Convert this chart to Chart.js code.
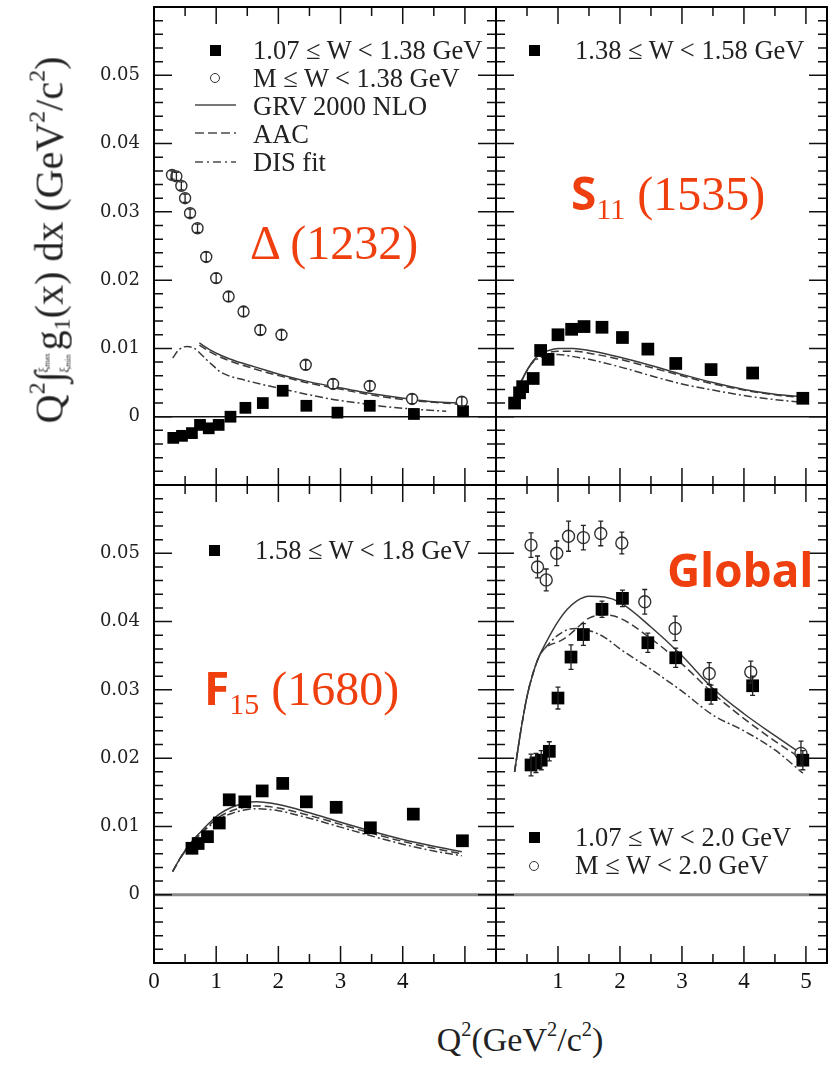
<!DOCTYPE html>
<html>
<head>
<meta charset="utf-8">
<script src="https://cdn.jsdelivr.net/npm/chart.js@4.4.0/dist/chart.umd.min.js"></script>
<style>
  body { margin: 0; background: #fff; }
  #page { position: relative; width: 829px; height: 1066px; overflow: hidden; font-family: "Liberation Serif", serif; color: #222; }
  canvas { position: absolute; }
  .leg { position: absolute; font-size: 26.5px; white-space: nowrap; line-height: 28px; }
  .sq { position: absolute; width: 11px; height: 11px; background: #000; }
  .ci { position: absolute; width: 8px; height: 8px; border: 1.4px solid #333; border-radius: 50%; }
  .ann { position: absolute; color: #ef3f0e; font-size: 48px; white-space: nowrap; line-height: 1; transform: translateY(-50%); }
  .ann .bs { font-family: "Noto Sans", sans-serif; font-weight: 700; font-size: 46px; }
  .ann sub { font-size: 30px; vertical-align: -0.3em; line-height: 0; }
  #ytitle { position: absolute; left: 50px; top: 240px; font-size: 40px; white-space: nowrap; transform: translate(-50%, -50%) rotate(-90deg); }
  #ytitle sup, #xtitle sup { font-size: 0.6em; vertical-align: 0.75em; line-height: 0; }
  #ytitle sub { font-size: 0.6em; vertical-align: -0.3em; line-height: 0; }
  #ytitle .lim { display: inline-flex; flex-direction: column; font-size: 13px; line-height: 21px; vertical-align: middle; margin-left: -1px; margin-right: 3px; }
  #xtitle { position: absolute; left: 520px; top: 1040px; font-size: 34px; white-space: nowrap; transform: translate(-50%, -50%); }
</style>
</head>
<body>
<div id="page">
  <canvas id="tl" width="506" height="495" style="left:0px;top:0px"></canvas>
  <canvas id="tr" width="343" height="495" style="left:486px;top:0px"></canvas>
  <canvas id="bl" width="506" height="525" style="left:0px;top:475px"></canvas>
  <canvas id="br" width="343" height="525" style="left:486px;top:475px"></canvas>

  <!-- legends -->
  <div class="sq" style="left:210px;top:45px"></div>
  <div class="leg" style="left:253px;top:36px">1.07 ≤ W &lt; 1.38 GeV</div>
  <div class="ci" style="left:210px;top:73px"></div>
  <div class="leg" style="left:253px;top:64px">M ≤ W &lt; 1.38 GeV</div>
  <svg style="position:absolute;left:194px;top:96px" width="44" height="80">
    <line x1="1" y1="9" x2="42" y2="9" stroke="#777" stroke-width="2"/>
    <line x1="1" y1="37" x2="42" y2="37" stroke="#777" stroke-width="2" stroke-dasharray="9,4"/>
    <line x1="1" y1="66" x2="42" y2="66" stroke="#777" stroke-width="2" stroke-dasharray="8,4,2,4"/>
  </svg>
  <div class="leg" style="left:253px;top:92px">GRV 2000 NLO</div>
  <div class="leg" style="left:253px;top:120px">AAC</div>
  <div class="leg" style="left:253px;top:148px">DIS fit</div>

  <div class="sq" style="left:529px;top:45px"></div>
  <div class="leg" style="left:575px;top:36px">1.38 ≤ W &lt; 1.58 GeV</div>

  <div class="sq" style="left:209px;top:545px"></div>
  <div class="leg" style="left:255px;top:536px">1.58 ≤ W &lt; 1.8 GeV</div>

  <div class="sq" style="left:529px;top:832px"></div>
  <div class="leg" style="left:575px;top:823px">1.07 ≤ W &lt; 2.0 GeV</div>
  <div class="ci" style="left:529px;top:861px"></div>
  <div class="leg" style="left:575px;top:851px">M ≤ W &lt; 2.0 GeV</div>

  <!-- resonance labels -->
  <div class="ann" style="left:250px;top:243px">Δ (1232)</div>
  <div class="ann" style="left:571px;top:193px"><span class="bs">S</span><sub>11</sub> (1535)</div>
  <div class="ann" style="left:204px;top:688px"><span class="bs">F</span><sub>15</sub> (1680)</div>
  <div class="ann" style="left:667px;top:570px"><span class="bs">Global</span></div>

  <div id="ytitle">Q<sup>2</sup>∫<span class="lim"><span>ξ<sub>max</sub></span><span>ξ<sub>min</sub></span></span>g<sub>1</sub>(x) dx (GeV<sup>2</sup>/c<sup>2</sup>)</div>
  <div id="xtitle">Q<sup>2</sup>(GeV<sup>2</sup>/c<sup>2</sup>)</div>
</div>

<script>
// tick labels
const yTickLabels = [0, 0.01, 0.02, 0.03, 0.04, 0.05];
const xTickLabelsLeft = [0, 1, 2, 3, 4];
const xTickLabelsRight = [1, 2, 3, 4, 5];

// Delta(1232): 1.07 <= W < 1.38 GeV (squares) and M <= W < 1.38 GeV (circles)
const deltaSqQ2 = [0.31, 0.45, 0.61, 0.74, 0.88, 1.04, 1.23, 1.47, 1.75, 2.07, 2.45, 2.95, 3.47, 4.18, 4.97];
const deltaSqVal = [-0.0031, -0.0028, -0.0024, -0.0012, -0.0017, -0.0012, 0.0000, 0.0013, 0.0020, 0.0038, 0.0016, 0.0006, 0.0016, 0.0004, 0.0008];
const deltaCircQ2 = [0.29, 0.36, 0.44, 0.50, 0.58, 0.70, 0.84, 1.00, 1.20, 1.44, 1.71, 2.05, 2.44, 2.88, 3.47, 4.15, 4.95];
const deltaCircVal = [0.0354, 0.0352, 0.0338, 0.0320, 0.0298, 0.0276, 0.0234, 0.0203, 0.0176, 0.0154, 0.0127, 0.0120, 0.0076, 0.0048, 0.0045, 0.0026, 0.0022];
const deltaCircErr = [0.0006, 0.0006, 0.0006, 0.0006, 0.0006, 0.0006, 0.0007, 0.0007, 0.0007, 0.0007, 0.0007, 0.0007, 0.0007, 0.0007, 0.0007, 0.0007, 0.0007];
const deltaModelQ2 = [0.73, 0.9, 1.1, 1.3, 1.55, 1.8, 2.1, 2.5, 2.9, 3.3, 3.7, 4.1, 4.5, 4.95];
const deltaGRV = [0.0108, 0.0098, 0.0089, 0.0082, 0.0075, 0.0068, 0.0060, 0.0051, 0.0044, 0.0037, 0.0031, 0.0026, 0.0022, 0.0020];
const deltaAAC = [0.0105, 0.0095, 0.0086, 0.0079, 0.0072, 0.0065, 0.0058, 0.0049, 0.0042, 0.0035, 0.0029, 0.0024, 0.0021, 0.0018];
const deltaDisQ2 = [0.3, 0.4, 0.53, 0.65, 0.74, 0.85, 0.96, 1.06, 1.2, 1.44, 1.8, 2.1, 2.5, 2.9, 3.3, 3.7, 4.2, 4.7];
const deltaDIS = [0.0086, 0.0098, 0.0103, 0.0100, 0.0093, 0.0083, 0.0074, 0.0066, 0.0060, 0.0054, 0.0046, 0.0040, 0.0032, 0.0025, 0.0020, 0.0015, 0.0011, 0.0008];

// S11(1535): 1.38 <= W < 1.58 GeV
const s11Q2 = [0.30, 0.38, 0.43, 0.60, 0.72, 0.84, 1.00, 1.22, 1.42, 1.71, 2.04, 2.45, 2.90, 3.47, 4.14, 4.95];
const s11Val = [0.0020, 0.0035, 0.0044, 0.0056, 0.0097, 0.0084, 0.0120, 0.0128, 0.0132, 0.0131, 0.0116, 0.0099, 0.0078, 0.0069, 0.0064, 0.0027];
const s11ModelQ2 = [0.3, 0.4, 0.5, 0.6, 0.7, 0.85, 1.0, 1.25, 1.5, 2.0, 2.5, 3.0, 3.5, 4.0, 4.5, 4.95];
const s11GRV = [0.0030, 0.0050, 0.0068, 0.0082, 0.0091, 0.0097, 0.0100, 0.0100, 0.0097, 0.0087, 0.0075, 0.0062, 0.0050, 0.0040, 0.0033, 0.0029];
const s11AAC = [0.0030, 0.0050, 0.0068, 0.0081, 0.0089, 0.0094, 0.0096, 0.0096, 0.0093, 0.0084, 0.0072, 0.0060, 0.0048, 0.0039, 0.0032, 0.0028];
const s11DIS = [0.0030, 0.0050, 0.0068, 0.0080, 0.0086, 0.0090, 0.0091, 0.0088, 0.0084, 0.0073, 0.0060, 0.0048, 0.0039, 0.0031, 0.0025, 0.0021];

// F15(1680): 1.58 <= W < 1.8 GeV
const f15Q2 = [0.61, 0.71, 0.86, 1.05, 1.21, 1.46, 1.74, 2.07, 2.45, 2.93, 3.48, 4.17, 4.96];
const f15Val = [0.0068, 0.0075, 0.0085, 0.0105, 0.0139, 0.0136, 0.0152, 0.0163, 0.0136, 0.0128, 0.0098, 0.0118, 0.0079];
const f15ModelQ2 = [0.3, 0.45, 0.6, 0.75, 0.9, 1.05, 1.25, 1.45, 1.65, 2.0, 2.5, 3.0, 3.5, 4.0, 4.5, 4.95];
const f15GRV = [0.0034, 0.0058, 0.0077, 0.0092, 0.0106, 0.0118, 0.0128, 0.0134, 0.0136, 0.0132, 0.0120, 0.0106, 0.0093, 0.0081, 0.0071, 0.0063];
const f15AAC = [0.0034, 0.0058, 0.0076, 0.0090, 0.0103, 0.0114, 0.0123, 0.0128, 0.0130, 0.0127, 0.0116, 0.0103, 0.0090, 0.0078, 0.0068, 0.0060];
const f15DIS = [0.0034, 0.0057, 0.0075, 0.0089, 0.0101, 0.0111, 0.0119, 0.0124, 0.0126, 0.0123, 0.0112, 0.0099, 0.0086, 0.0074, 0.0064, 0.0057];

// Global: 1.07 <= W < 2.0 GeV (squares) and M <= W < 2.0 GeV (circles)
const globSqQ2 = [0.565, 0.645, 0.73, 0.86, 1.00, 1.21, 1.41, 1.71, 2.04, 2.45, 2.90, 3.47, 4.14, 4.95];
const globSqVal = [0.0190, 0.0193, 0.0197, 0.0210, 0.0288, 0.0348, 0.0381, 0.0418, 0.0434, 0.0369, 0.0347, 0.0293, 0.0306, 0.0197];
const globSqErr = [0.0016, 0.0014, 0.0014, 0.0014, 0.0016, 0.0018, 0.0016, 0.0012, 0.0012, 0.0014, 0.0014, 0.0014, 0.0014, 0.0014];
const globCircQ2 = [0.565, 0.67, 0.81, 0.98, 1.17, 1.41, 1.69, 2.03, 2.40, 2.89, 3.44, 4.11, 4.92];
const globCircVal = [0.0512, 0.0480, 0.0461, 0.0500, 0.0525, 0.0523, 0.0529, 0.0515, 0.0429, 0.0390, 0.0324, 0.0326, 0.0207];
const globCircErr = [0.0018, 0.0016, 0.0016, 0.0018, 0.0022, 0.0018, 0.0018, 0.0016, 0.0018, 0.0018, 0.0016, 0.0016, 0.0018];
const globModelQ2 = [0.3, 0.4, 0.5, 0.6, 0.7, 0.8, 0.9, 1.0, 1.15, 1.3, 1.5, 1.75, 2.0, 2.5, 3.0, 3.5, 4.0, 4.5, 4.95];
const globGRV = [0.0180, 0.0240, 0.0290, 0.0325, 0.0350, 0.0368, 0.0385, 0.0400, 0.0418, 0.0430, 0.0437, 0.0436, 0.0428, 0.0392, 0.0350, 0.0302, 0.0265, 0.0233, 0.0205];
const globAAC = [0.0180, 0.0240, 0.0290, 0.0325, 0.0350, 0.0362, 0.0367, 0.0370, 0.0378, 0.0390, 0.0405, 0.0410, 0.0405, 0.0375, 0.0338, 0.0295, 0.0258, 0.0225, 0.0198];
const globDIS = [0.0180, 0.0240, 0.0290, 0.0325, 0.0350, 0.0362, 0.0372, 0.0380, 0.0388, 0.0390, 0.0387, 0.0377, 0.0360, 0.0330, 0.0298, 0.0263, 0.0240, 0.0212, 0.0178];

function pts(xs, ys) {
  return xs.map((x, i) => ({ x: x, y: ys[i] }));
}

function squares(xs, ys, r, errs) {
  return { data: pts(xs, ys), pointStyle: 'rect', pointRadius: r, backgroundColor: '#000', borderWidth: 0, errors: errs };
}
function circles(xs, ys, r, errs) {
  return { data: pts(xs, ys), pointStyle: 'circle', pointRadius: r, backgroundColor: '#fff', borderColor: '#333', borderWidth: 1.4, errors: errs };
}
function curve(xs, ys, dash) {
  return { data: pts(xs, ys), showLine: true, pointRadius: 0, borderColor: '#3a3a3a', borderWidth: 1.5,
           borderDash: dash, cubicInterpolationMode: 'monotone', fill: false };
}

// zero line, error bars, frame and inward ticks on all four sides
const panelFrame = {
  id: 'panelFrame',
  beforeDatasetsDraw(chart, args, o) {
    const { ctx, chartArea: a } = chart;
    const y0 = chart.scales.y.getPixelForValue(0);
    ctx.save();
    ctx.strokeStyle = o.zeroColor;
    ctx.lineWidth = o.zeroWidth;
    ctx.beginPath();
    ctx.moveTo(a.left, y0);
    ctx.lineTo(a.right, y0);
    ctx.stroke();
    ctx.restore();
  },
  afterDatasetsDraw(chart) {
    const { ctx } = chart;
    const ys = chart.scales.y;
    ctx.save();
    ctx.strokeStyle = '#222';
    ctx.lineWidth = 1.3;
    chart.data.datasets.forEach((ds, i) => {
      if (!ds.errors) return;
      const meta = chart.getDatasetMeta(i);
      meta.data.forEach((el, j) => {
        const v = ds.data[j].y, e = ds.errors[j];
        const top = ys.getPixelForValue(v + e), bot = ys.getPixelForValue(v - e);
        ctx.beginPath();
        ctx.moveTo(el.x, top); ctx.lineTo(el.x, bot);
        ctx.moveTo(el.x - 2.5, top); ctx.lineTo(el.x + 2.5, top);
        ctx.moveTo(el.x - 2.5, bot); ctx.lineTo(el.x + 2.5, bot);
        ctx.stroke();
      });
    });
    ctx.restore();
  },
  afterDraw(chart) {
    const { ctx, chartArea: a } = chart;
    const xs = chart.scales.x, ys = chart.scales.y;
    ctx.save();
    ctx.strokeStyle = '#111';
    ctx.lineWidth = 1.5;
    ctx.beginPath();
    for (let k = 0; k * 0.5 <= xs.max + 1e-9; k++) {
      const v = k * 0.5;
      const px = xs.getPixelForValue(v);
      if (px <= a.left + 1 || px >= a.right - 1) continue;
      const L = k % 2 === 0 ? 17 : 9;
      ctx.moveTo(px, a.bottom); ctx.lineTo(px, a.bottom - L);
      ctx.moveTo(px, a.top); ctx.lineTo(px, a.top + L);
    }
    for (let k = -5; k <= 30; k++) {
      const v = k * 0.002;
      const py = ys.getPixelForValue(v);
      if (py <= a.top + 1 || py >= a.bottom - 1) continue;
      const L = k % 5 === 0 ? 18 : 9;
      ctx.moveTo(a.left, py); ctx.lineTo(a.left + L, py);
      ctx.moveTo(a.right, py); ctx.lineTo(a.right - L, py);
    }
    ctx.stroke();
    ctx.lineWidth = 2;
    ctx.strokeStyle = '#000';
    ctx.strokeRect(a.left, a.top, a.right - a.left, a.bottom - a.top);
    ctx.restore();
  }
};

function noPad(s) {
  s.paddingTop = 0; s.paddingBottom = 0; s.paddingLeft = 0; s.paddingRight = 0;
}

function panel(id, cfg) {
  return new Chart(document.getElementById(id), {
    type: 'scatter',
    data: { datasets: cfg.datasets },
    options: {
      responsive: false,
      animation: false,
      layout: { padding: cfg.padding, autoPadding: false },
      plugins: {
        legend: { display: false },
        tooltip: { enabled: false },
        panelFrame: { zeroColor: cfg.zeroColor, zeroWidth: cfg.zeroWidth }
      },
      scales: {
        x: {
          type: 'linear', min: 0, max: cfg.xMax,
          display: cfg.xLabels !== null,
          afterFit: s => { noPad(s); if (cfg.xLabels !== null) s.height = 37; },
          grid: { display: false, drawTicks: false },
          border: { display: false },
          ticks: {
            stepSize: 1, includeBounds: false, autoSkip: false, maxRotation: 0, padding: 5, color: '#111',
            font: { family: 'Liberation Serif', size: 23 },
            callback: v => (cfg.xLabels && cfg.xLabels.includes(v)) ? String(v) : null
          }
        },
        y: {
          type: 'linear', min: -0.01, max: 0.06,
          display: cfg.showY,
          afterFit: s => { noPad(s); if (cfg.showY) s.width = 154; },
          grid: { display: false, drawTicks: false },
          border: { display: false },
          ticks: {
            stepSize: 0.01, includeBounds: false, autoSkip: false, padding: 14, color: '#222',
            font: { family: 'DejaVu Serif', size: 18 },
            callback: v => {
              const r = Math.round(v * 100) / 100;
              if (!yTickLabels.includes(r)) return null;
              return r === 0 ? '0' : r.toFixed(2);
            }
          }
        }
      }
    },
    plugins: [panelFrame]
  });
}

panel('tl', {
  xMax: 5.5, xLabels: null, showY: true,
  padding: { left: 0, top: 7, right: 10, bottom: 10 },
  zeroColor: '#111', zeroWidth: 1.6,
  datasets: [
    squares(deltaSqQ2, deltaSqVal, 8.3),
    circles(deltaCircQ2, deltaCircVal, 5.5, deltaCircErr),
    curve(deltaModelQ2, deltaGRV, []),
    curve(deltaModelQ2, deltaAAC, [8, 4]),
    curve(deltaDisQ2, deltaDIS, [8, 3, 2, 3])
  ]
});

panel('tr', {
  xMax: 5.34, xLabels: null, showY: false,
  padding: { left: 10, top: 7, right: 2, bottom: 10 },
  zeroColor: '#111', zeroWidth: 1.6,
  datasets: [
    squares(s11Q2, s11Val, 9),
    curve(s11ModelQ2, s11GRV, []),
    curve(s11ModelQ2, s11AAC, [8, 4]),
    curve(s11ModelQ2, s11DIS, [8, 3, 2, 3])
  ]
});

panel('bl', {
  xMax: 5.5, xLabels: xTickLabelsLeft, showY: true,
  padding: { left: 0, top: 10, right: 10, bottom: 0 },
  zeroColor: '#8a8a8a', zeroWidth: 3,
  datasets: [
    squares(f15Q2, f15Val, 9),
    curve(f15ModelQ2, f15GRV, []),
    curve(f15ModelQ2, f15AAC, [8, 4]),
    curve(f15ModelQ2, f15DIS, [8, 3, 2, 3])
  ]
});

panel('br', {
  xMax: 5.34, xLabels: xTickLabelsRight, showY: false,
  padding: { left: 10, top: 10, right: 2, bottom: 0 },
  zeroColor: '#8a8a8a', zeroWidth: 3,
  datasets: [
    squares(globSqQ2, globSqVal, 9, globSqErr),
    circles(globCircQ2, globCircVal, 6, globCircErr),
    curve(globModelQ2, globGRV, []),
    curve(globModelQ2, globAAC, [8, 4]),
    curve(globModelQ2, globDIS, [8, 3, 2, 3])
  ]
});
</script>
</body>
</html>
